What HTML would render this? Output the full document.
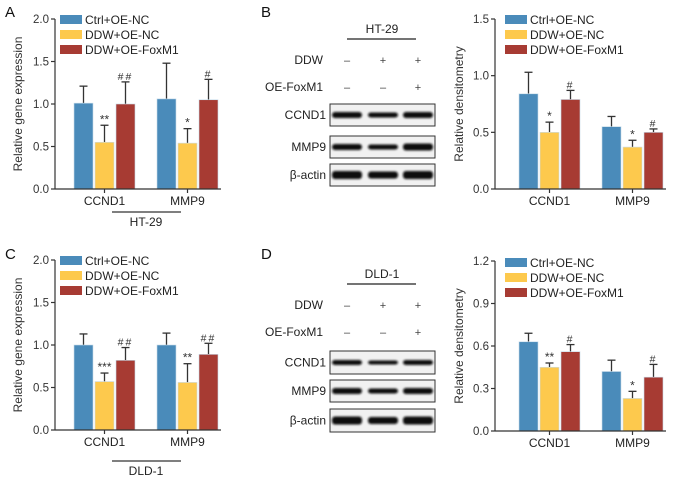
<!DOCTYPE html>
<html><head><meta charset="utf-8">
<style>
html,body{margin:0;padding:0;background:#fff;}
svg{display:block;font-family:"Liberation Sans",sans-serif;}
</style></head>
<body>
<svg id="fig" width="677" height="481" viewBox="0 0 677 481">
<defs>
<filter id="blur" x="-20%" y="-50%" width="140%" height="200%"><feGaussianBlur stdDeviation="1.1"/></filter>
</defs>
<g id="root"></g>
</svg>
<script>
// ---- data ----
const categories = ["CCND1", "MMP9"];
const seriesNames = ["Ctrl+OE-NC", "DDW+OE-NC", "DDW+OE-FoxM1"];
const seriesColors = ["#4a8bba", "#fdc94d", "#a73b33"];
// Panel A
const aValues = [[1.01, 1.06], [0.55, 0.54], [1.00, 1.05]];
const aErrTop = [[1.21, 1.48], [0.75, 0.71], [1.26, 1.29]];
const aMarks = [["", ""], ["**", "*"], ["##", "#"]];
const aTicks = ["0.0", "0.5", "1.0", "1.5", "2.0"];
// Panel B
const bValues = [[0.84, 0.55], [0.50, 0.37], [0.79, 0.50]];
const bErrTop = [[1.03, 0.64], [0.59, 0.43], [0.87, 0.53]];
const bMarks = [["", ""], ["*", "*"], ["#", "#"]];
const bTicks = ["0.0", "0.5", "1.0", "1.5"];
// Panel C
const cValues = [[1.00, 1.00], [0.57, 0.56], [0.82, 0.89]];
const cErrTop = [[1.13, 1.14], [0.67, 0.78], [0.97, 1.02]];
const cMarks = [["", ""], ["***", "**"], ["##", "##"]];
const cTicks = ["0.0", "0.5", "1.0", "1.5", "2.0"];
// Panel D
const dValues = [[0.63, 0.42], [0.45, 0.23], [0.56, 0.38]];
const dErrTop = [[0.69, 0.50], [0.48, 0.28], [0.61, 0.47]];
const dMarks = [["", ""], ["**", "*"], ["#", "#"]];
const dTicks = ["0.0", "0.3", "0.6", "0.9", "1.2"];

const NS = "http://www.w3.org/2000/svg";
const root = document.getElementById("root");
function mk(tag, attrs, parent, text) {
  const e = document.createElementNS(NS, tag);
  for (const k in attrs) e.setAttribute(k, attrs[k]);
  if (text !== undefined) e.textContent = text;
  (parent || root).appendChild(e);
  return e;
}

function chart(opt) {
  const g = mk("g", {});
  
  
  const ticks = opt.ticks.map(Number);
  const yMax = ticks[ticks.length - 1];
  const y = v => opt.y0 - (v / yMax) * (opt.y0 - opt.yTop);
  const groupX = [opt.gx[0], opt.gx[1]];
  const bw = opt.bw, gap = opt.gap;
  for (let s = 0; s < 3; s++) {
    for (let c = 0; c < categories.length; c++) {
      const x = groupX[c] + s * (bw + gap);
      const v = opt.values[s][c], et = opt.err[s][c];
      const cx = x + bw / 2;
      const el = mk("line", {x1: cx, x2: cx, y1: y(v), y2: y(et), stroke: "#333", "stroke-width": 1.3}, g);
      
      
      const cap = mk("line", {x1: cx - 4, x2: cx + 4, y1: y(et), y2: y(et), stroke: "#333", "stroke-width": 1.3}, g);
      
      
      const r = mk("rect", {x: x, y: y(v), width: bw, height: opt.y0 - y(v), fill: seriesColors[s], stroke: "#c8dcea", "stroke-width": 0.6}, g);
      
      
      const m = opt.marks[s][c];
      if (m) {
        const t = mk("text", {x: cx, y: y(et) - 2, "text-anchor": "middle", "font-size": m[0] === "#" ? 10.5 : 12, fill: "#333", "letter-spacing": m[0] === "#" ? 2 : 0}, g, m);
        
        
      }
    }
  }
  const ya = mk("line", {x1: opt.ax, x2: opt.ax, y1: opt.yTop, y2: opt.y0, stroke: "#333", "stroke-width": 1.2}, g);
  
  
  const xa = mk("line", {x1: opt.ax, x2: opt.axEnd, y1: opt.y0, y2: opt.y0, stroke: "#333", "stroke-width": 1.2}, g);
  
  
  opt.ticks.forEach((t, i) => {
    const yy = y(ticks[i]);
    mk("line", {x1: opt.ax - 4, x2: opt.ax, y1: yy, y2: yy, stroke: "#333", "stroke-width": 1.2}, g);
    const tl = mk("text", {x: opt.ax - 6, y: yy + 4, "text-anchor": "end", "font-size": 11.5, fill: "#333"}, g, t);
    
    
  });
  categories.forEach((c, i) => {
    const cx = groupX[i] + (3 * bw + 2 * gap) / 2;
    mk("line", {x1: cx, x2: cx, y1: opt.y0, y2: opt.y0 + 4, stroke: "#333", "stroke-width": 1.2}, g);
    const tl = mk("text", {x: cx, y: opt.y0 + 16, "text-anchor": "middle", "font-size": 12, fill: "#222"}, g, c);
    
    
  });
  const yt = mk("text", {x: 0, y: 0, "text-anchor": "middle", "font-size": 12, fill: "#333", transform: `translate(${opt.titleX},${(opt.yTop + opt.y0) / 2}) rotate(-90)`}, g, opt.title);
  
  
  seriesNames.forEach((n, i) => {
    const ly = opt.legY + i * 15;
    const sw = mk("rect", {x: opt.legX, y: ly, width: 22, height: 9, fill: seriesColors[i]}, g);
    
    
    const lt = mk("text", {x: opt.legX + 25, y: ly + 9, "font-size": 12, fill: "#222"}, g, n);
    
    
  });
  if (opt.cell) {
    const ul = mk("line", {x1: 112, x2: 181, y1: opt.cellY, y2: opt.cellY, stroke: "#333", "stroke-width": 1.3}, g);
    
    
    const ct = mk("text", {x: 146, y: opt.cellY + 14, "text-anchor": "middle", "font-size": 12, fill: "#222"}, g, opt.cell);
    
    
  }
}

function blot(opt) {
  const g = mk("g", {});
  
  
  const cols = [347, 383, 418];
  const ct = mk("text", {x: 382, y: opt.top + 4, "text-anchor": "middle", "font-size": 12, fill: "#222"}, g, opt.cell);
  
  
  mk("line", {x1: 347, x2: 416, y1: opt.top + 10, y2: opt.top + 10, stroke: "#222", "stroke-width": 1.3}, g);
  const rows = [["DDW", ["\u2013", "+", "+"], opt.top + 31], ["OE-FoxM1", ["\u2013", "\u2013", "+"], opt.top + 58]];
  rows.forEach(r => {
    const l = mk("text", {x: 323, y: r[2] + 4, "text-anchor": "end", "font-size": 12, fill: "#222"}, g, r[0]);
    
    
    r[1].forEach((s, i) => mk("text", {x: cols[i], y: r[2] + 4, "text-anchor": "middle", "font-size": 11, fill: "#444"}, g, s));
  });
  opt.boxes.forEach(b => {
    const bx = mk("rect", {x: 330, y: b[1], width: 105, height: b[2], fill: "#f1f1f1", stroke: "#333", "stroke-width": 1}, g);
    
    
    const lb = mk("text", {x: 326, y: b[1] + b[2] / 2 + 4, "text-anchor": "end", "font-size": 12, fill: "#222"}, g, b[0] === "actin" ? "\u03b2-actin" : b[0]);
    
    
    b[3].forEach((h, i) => {
      mk("rect", {x: cols[i] - 15, y: b[1] + b[2] / 2 - h / 2, width: 30, height: h, rx: 3, fill: "#111", filter: "url(#blur)"}, g);
    });
  });
}

chart({name: "panel-a-chart", values: aValues, err: aErrTop, marks: aMarks, ticks: aTicks, y0: 189, yTop: 19, ax: 55, axEnd: 221, gx: [74, 157], bw: 19, gap: 2, title: "Relative gene expression", titleX: 22, legX: 60, legY: 15, cell: "HT-29", cellY: 212});
chart({name: "panel-c-chart", values: cValues, err: cErrTop, marks: cMarks, ticks: cTicks, y0: 430, yTop: 260, ax: 55, axEnd: 221, gx: [74, 157], bw: 19, gap: 2, title: "Relative gene expression", titleX: 22, legX: 60, legY: 256, cell: "DLD-1", cellY: 461});
chart({name: "panel-b-chart", values: bValues, err: bErrTop, marks: bMarks, ticks: bTicks, y0: 189, yTop: 19, ax: 495, axEnd: 666, gx: [519, 602], bw: 19, gap: 2, title: "Relative densitometry", titleX: 463, legX: 505, legY: 15});
chart({name: "panel-d-chart", values: dValues, err: dErrTop, marks: dMarks, ticks: dTicks, y0: 431, yTop: 261, ax: 495, axEnd: 666, gx: [519, 602], bw: 19, gap: 2, title: "Relative densitometry", titleX: 463, legX: 505, legY: 258});

blot({name: "panel-b-blot", cell: "HT-29", top: 29, boxes: [["CCND1", 104, 22, [6, 5, 6]], ["MMP9", 136, 22, [6, 5, 7]], ["actin", 164, 22, [8, 7, 8]]]});
blot({name: "panel-d-blot", cell: "DLD-1", top: 274, boxes: [["CCND1", 351, 23, [5, 4, 5]], ["MMP9", 380, 22, [6, 5, 6]], ["actin", 409, 23, [8, 7, 8]]]});

[["A", 5, 17], ["B", 261, 17], ["C", 5, 259], ["D", 261, 259]].forEach(p => {
  const t = mk("text", {x: p[1], y: p[2], "font-size": 15, fill: "#111"}, root, p[0]);
  
  
});
</script>
</body></html>
